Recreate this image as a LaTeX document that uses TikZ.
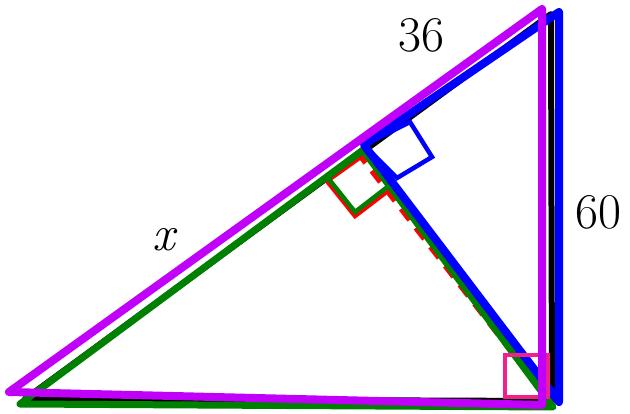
\documentclass[tikz,border=0pt]{standalone}
\usepackage{xcolor}
\usepackage{tikz}
\definecolor{violet}{HTML}{C000F8}
\definecolor{leaf}{HTML}{008000}
\definecolor{rose}{HTML}{F0208C}

\begin{document}
\begin{tikzpicture}[
	  x=1pt, y=-1pt,
	    side/.style={line width=7pt, line join=round, line cap=round},
	      anglebox/.style={line width=4.5pt, line join=miter},
	        lbl/.style={font=\fontsize{50}{50}\selectfont, inner sep=0pt}
	        ]
	        \useasboundingbox (0,0) rectangle (630,414);
	        % corners of the sketches
	        \coordinate (kA) at (25,399);  \coordinate (kB) at (552,401); \coordinate (kC) at (551,14);
	        \coordinate (gA) at (20,404);  \coordinate (gB) at (553,407); \coordinate (gD) at (363,150);
	        \coordinate (rD) at (357,152); \coordinate (rB) at (547,398);
	        \coordinate (bD) at (364,145); \coordinate (bB) at (559,402); \coordinate (bC) at (559,12);
	        \coordinate (pA) at (9,392);   \coordinate (pB) at (542,405); \coordinate (pC) at (542,9);
	        % big triangle
	        \draw[side, black, line width=6pt] (kA) -- (kB) -- (kC) -- cycle;
	        % altitude, red
	        \draw[side, red, line width=5pt, dash pattern=on 14pt off 10pt, line cap=butt] (rD) -- (rB);
	        \draw[anglebox, red] (362,156) -- (327,181) -- (355,216) -- (389,190);
	        % left part
	        \draw[side, leaf] (gA) -- (gD) -- (gB) -- cycle;
	        \draw[anglebox, leaf] (gD) -- (328,178) -- (355,212) -- (390,185) -- cycle;
	        % right part
	        \draw[side, blue, line width=8pt] (bD) -- (bB) -- (bC) -- cycle;
	        \draw[anglebox, blue] (bD) -- (410,122) -- (432,157) -- (397,178) -- cycle;
	        % right angle at B
	        \draw[anglebox, rose] (505,355) rectangle (548,397);
	        % outer triangle
	        \draw[side, violet, line width=8pt] (pA) -- (pB) -- (pC) -- cycle;
	        % labels
	        \node[lbl] (l36) at (421,35) {36};
	        \node[lbl] (l60) at (598,212) {60};
	        \node[lbl] (lx) at (165,240) {\textit{x}};
	        \end{tikzpicture}
\end{document}
